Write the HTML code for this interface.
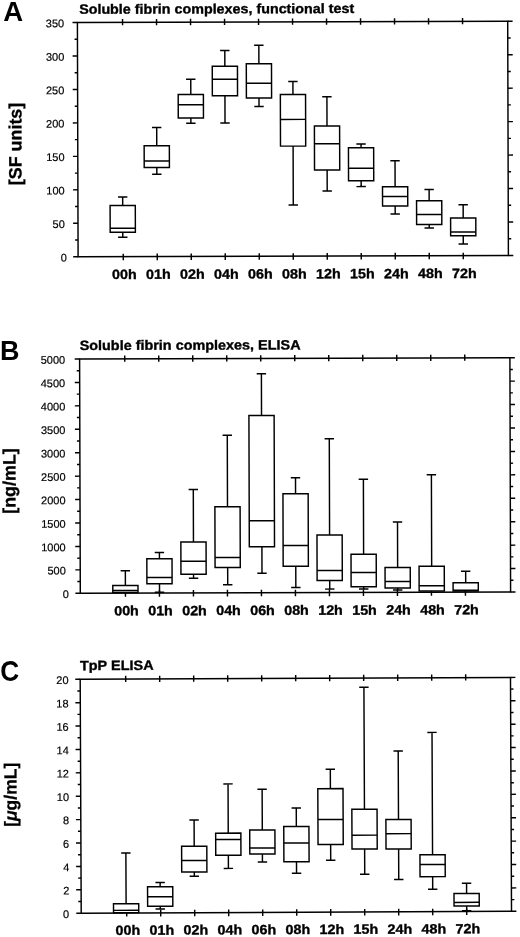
<!DOCTYPE html>
<html><head><meta charset="utf-8"><title>Figure</title>
<style>
html,body{margin:0;padding:0;background:#fff}
svg{display:block}
text{font-family:"Liberation Sans",sans-serif;fill:#000}
.yt{font-size:11px;stroke:#000;stroke-width:0.18px;text-anchor:end}
.xl{font-size:13.5px;stroke:#000;stroke-width:0.35px;font-weight:bold;text-anchor:middle}
.ti{font-size:13.5px;stroke:#000;stroke-width:0.35px;font-weight:bold}
.pl{font-size:26px;font-weight:bold}
.ya{font-size:17.9px;stroke:#000;stroke-width:0.3px;font-weight:bold;text-anchor:middle}
</style></head><body>
<svg width="520" height="937" viewBox="0 0 520 937">
<rect width="520" height="937" fill="#fff"/>
<g transform="rotate(-0.17 292.90 139.00)">
<rect x="77.75" y="21.85" width="430.30" height="234.30" fill="none" stroke="#000" stroke-width="1.45"/>
<path d="M72.85 21.85H77.75M508.05 21.85H512.95 M74.85 38.59H77.75M508.05 38.59H510.95 M72.85 55.32H77.75M508.05 55.32H512.95 M74.85 72.06H77.75M508.05 72.06H510.95 M72.85 88.79H77.75M508.05 88.79H512.95 M74.85 105.53H77.75M508.05 105.53H510.95 M72.85 122.26H77.75M508.05 122.26H512.95 M74.85 139.00H77.75M508.05 139.00H510.95 M72.85 155.74H77.75M508.05 155.74H512.95 M74.85 172.47H77.75M508.05 172.47H510.95 M72.85 189.21H77.75M508.05 189.21H512.95 M74.85 205.94H77.75M508.05 205.94H510.95 M72.85 222.68H77.75M508.05 222.68H512.95 M74.85 239.41H77.75M508.05 239.41H510.95 M72.85 256.15H77.75M508.05 256.15H512.95 M122.90 18.55V24.85M122.90 253.15V259.75 M156.90 18.55V24.85M156.90 253.15V259.75 M190.90 18.55V24.85M190.90 253.15V259.75 M224.90 18.55V24.85M224.90 253.15V259.75 M258.90 18.55V24.85M258.90 253.15V259.75 M292.90 18.55V24.85M292.90 253.15V259.75 M326.90 18.55V24.85M326.90 253.15V259.75 M360.90 18.55V24.85M360.90 253.15V259.75 M394.90 18.55V24.85M394.90 253.15V259.75 M428.90 18.55V24.85M428.90 253.15V259.75 M462.90 18.55V24.85M462.90 253.15V259.75" stroke="#000" stroke-width="1.45" fill="none"/>
<text x="64.50" y="26.50" class="yt">350</text>
<text x="64.50" y="59.97" class="yt">300</text>
<text x="64.50" y="93.44" class="yt">250</text>
<text x="64.50" y="126.91" class="yt">200</text>
<text x="64.50" y="160.39" class="yt">150</text>
<text x="64.50" y="193.86" class="yt">100</text>
<text x="64.50" y="227.33" class="yt">50</text>
<text x="66.50" y="260.80" class="yt">0</text>
<text transform="translate(123.90 278.45) scale(1.06 1)" class="xl">00h</text>
<text transform="translate(157.90 278.45) scale(1.06 1)" class="xl">01h</text>
<text transform="translate(191.90 278.45) scale(1.06 1)" class="xl">02h</text>
<text transform="translate(225.90 278.45) scale(1.06 1)" class="xl">04h</text>
<text transform="translate(259.90 278.45) scale(1.06 1)" class="xl">06h</text>
<text transform="translate(293.90 278.45) scale(1.06 1)" class="xl">08h</text>
<text transform="translate(327.90 278.45) scale(1.06 1)" class="xl">12h</text>
<text transform="translate(361.90 278.45) scale(1.06 1)" class="xl">15h</text>
<text transform="translate(395.90 278.45) scale(1.06 1)" class="xl">24h</text>
<text transform="translate(429.90 278.45) scale(1.06 1)" class="xl">48h</text>
<text transform="translate(463.90 278.45) scale(1.06 1)" class="xl">72h</text>
<path d="M109.90 204.99H135.10V231.69H109.90Z M144.13 145.35H169.33V167.10H144.13Z M178.33 94.20H203.53V117.70H178.33Z M212.47 66.05H237.67V95.55H212.47Z M246.52 63.65H271.72V97.90H246.52Z M280.48 94.40H305.68V146.10H280.48Z M314.44 126.10H339.64V170.10H314.44Z M348.42 147.95H373.62V180.95H348.42Z M382.36 187.00H407.56V206.30H382.36Z M416.37 201.15H441.57V224.90H416.37Z M450.36 218.50H475.56V236.25H450.36Z" stroke="#000" stroke-width="1.45" fill="#fff" stroke-linejoin="miter"/>
<path d="M109.90 227.69H135.10 M122.50 204.99V196.49M117.80 196.49H127.20 M122.50 231.69V236.79M117.80 236.79H127.20 M144.13 160.60H169.33 M156.73 145.35V127.10M152.03 127.10H161.43 M156.73 167.10V173.85M152.03 173.85H161.43 M178.33 104.50H203.53 M190.93 94.20V78.95M186.23 78.95H195.63 M190.93 117.70V122.90M186.23 122.90H195.63 M212.47 79.05H237.67 M225.07 66.05V50.30M220.37 50.30H229.77 M225.07 95.55V122.80M220.37 122.80H229.77 M246.52 83.15H271.72 M259.12 63.65V45.15M254.42 45.15H263.82 M259.12 97.90V106.40M254.42 106.40H263.82 M280.48 119.40H305.68 M293.08 94.40V81.50M288.38 81.50H297.78 M293.08 146.10V205.00M288.38 205.00H297.78 M314.44 143.85H339.64 M327.04 126.10V96.85M322.34 96.85H331.74 M327.04 170.10V191.10M322.34 191.10H331.74 M348.42 168.45H373.62 M361.02 147.95V144.20M356.32 144.20H365.72 M361.02 180.95V186.80M356.32 186.80H365.72 M382.36 196.80H407.56 M394.96 187.00V161.05M390.26 161.05H399.66 M394.96 206.30V214.30M390.26 214.30H399.66 M416.37 214.90H441.57 M428.97 201.15V189.90M424.27 189.90H433.67 M428.97 224.90V228.40M424.27 228.40H433.67 M450.36 232.50H475.56 M462.96 218.50V205.26M458.26 205.26H467.66 M462.96 236.25V244.50M458.26 244.50H467.66" stroke="#000" stroke-width="1.45" fill="none"/>
<text transform="translate(79.50 13.20) scale(1.06 1)" class="ti">Soluble fibrin complexes, functional test</text>
</g>
<text transform="translate(3.30 20.95) scale(1 1)" style="font-size:27.5px" class="pl">A</text>
<text transform="translate(21.50 144.00) rotate(-90.17)" style="font-size:17.9px" class="ya">[SF units]</text>
<g transform="rotate(-0.17 295.10 475.50)">
<rect x="79.95" y="358.35" width="430.30" height="234.30" fill="none" stroke="#000" stroke-width="1.45"/>
<path d="M75.05 358.35H79.95M510.25 358.35H515.15 M77.05 370.06H79.95M510.25 370.06H513.15 M75.05 381.78H79.95M510.25 381.78H515.15 M77.05 393.50H79.95M510.25 393.50H513.15 M75.05 405.21H79.95M510.25 405.21H515.15 M77.05 416.93H79.95M510.25 416.93H513.15 M75.05 428.64H79.95M510.25 428.64H515.15 M77.05 440.36H79.95M510.25 440.36H513.15 M75.05 452.07H79.95M510.25 452.07H515.15 M77.05 463.79H79.95M510.25 463.79H513.15 M75.05 475.50H79.95M510.25 475.50H515.15 M77.05 487.22H79.95M510.25 487.22H513.15 M75.05 498.93H79.95M510.25 498.93H515.15 M77.05 510.65H79.95M510.25 510.65H513.15 M75.05 522.36H79.95M510.25 522.36H515.15 M77.05 534.08H79.95M510.25 534.08H513.15 M75.05 545.79H79.95M510.25 545.79H515.15 M77.05 557.51H79.95M510.25 557.51H513.15 M75.05 569.22H79.95M510.25 569.22H515.15 M77.05 580.93H79.95M510.25 580.93H513.15 M75.05 592.65H79.95M510.25 592.65H515.15 M125.10 355.05V361.35M125.10 589.65V596.25 M159.10 355.05V361.35M159.10 589.65V596.25 M193.10 355.05V361.35M193.10 589.65V596.25 M227.10 355.05V361.35M227.10 589.65V596.25 M261.10 355.05V361.35M261.10 589.65V596.25 M295.10 355.05V361.35M295.10 589.65V596.25 M329.10 355.05V361.35M329.10 589.65V596.25 M363.10 355.05V361.35M363.10 589.65V596.25 M397.10 355.05V361.35M397.10 589.65V596.25 M431.10 355.05V361.35M431.10 589.65V596.25 M465.10 355.05V361.35M465.10 589.65V596.25" stroke="#000" stroke-width="1.45" fill="none"/>
<text x="65.50" y="363.00" class="yt">5000</text>
<text x="65.50" y="386.43" class="yt">4500</text>
<text x="65.50" y="409.86" class="yt">4000</text>
<text x="65.50" y="433.29" class="yt">3500</text>
<text x="65.50" y="456.72" class="yt">3000</text>
<text x="65.50" y="480.15" class="yt">2500</text>
<text x="65.50" y="503.58" class="yt">2000</text>
<text x="65.50" y="527.01" class="yt">1500</text>
<text x="65.50" y="550.44" class="yt">1000</text>
<text x="65.50" y="573.87" class="yt">500</text>
<text x="68.40" y="597.30" class="yt">0</text>
<text transform="translate(126.10 614.85) scale(1.06 1)" class="xl">00h</text>
<text transform="translate(160.10 614.85) scale(1.06 1)" class="xl">01h</text>
<text transform="translate(194.10 614.85) scale(1.06 1)" class="xl">02h</text>
<text transform="translate(228.10 614.85) scale(1.06 1)" class="xl">04h</text>
<text transform="translate(262.10 614.85) scale(1.06 1)" class="xl">06h</text>
<text transform="translate(296.10 614.85) scale(1.06 1)" class="xl">08h</text>
<text transform="translate(330.10 614.85) scale(1.06 1)" class="xl">12h</text>
<text transform="translate(364.10 614.85) scale(1.06 1)" class="xl">15h</text>
<text transform="translate(398.10 614.85) scale(1.06 1)" class="xl">24h</text>
<text transform="translate(432.10 614.85) scale(1.06 1)" class="xl">48h</text>
<text transform="translate(466.10 614.85) scale(1.06 1)" class="xl">72h</text>
<path d="M112.47 584.90H137.67V592.00H112.47Z M146.58 558.35H171.78V583.35H146.58Z M180.66 541.70H205.86V573.95H180.66Z M214.80 506.55H240.00V567.30H214.80Z M249.10 415.40H274.30V546.65H249.10Z M282.90 493.75H308.10V566.25H282.90Z M316.80 535.10H342.00V580.60H316.80Z M350.78 554.45H375.98V586.95H350.78Z M384.77 567.80H409.97V588.30H384.77Z M418.80 566.60H444.00V591.40H418.80Z M452.78 583.31H477.98V591.51H452.78Z" stroke="#000" stroke-width="1.45" fill="#fff" stroke-linejoin="miter"/>
<path d="M112.47 590.00H137.67 M125.07 584.90V570.25M120.37 570.25H129.77 M146.58 577.10H171.78 M159.18 558.35V552.10M154.48 552.10H163.88 M159.18 583.35V591.80M154.48 591.80H163.88 M180.66 560.95H205.86 M193.26 541.70V489.20M188.56 489.20H197.96 M193.26 573.95V577.95M188.56 577.95H197.96 M214.80 557.30H240.00 M227.40 506.55V435.05M222.70 435.05H232.10 M227.40 567.30V584.55M222.70 584.55H232.10 M249.10 520.65H274.30 M261.70 415.40V373.65M257.00 373.65H266.40 M261.70 546.65V573.15M257.00 573.15H266.40 M282.90 545.50H308.10 M295.50 493.75V477.75M290.80 477.75H300.20 M295.50 566.25V587.50M290.80 587.50H300.20 M316.80 570.60H342.00 M329.40 535.10V438.85M324.70 438.85H334.10 M329.40 580.60V589.20M324.70 589.20H334.10 M350.78 572.70H375.98 M363.38 554.45V479.45M358.68 479.45H368.08 M363.38 586.95V589.20M358.68 589.20H368.08 M384.77 581.80H409.97 M397.37 567.80V522.30M392.67 522.30H402.07 M397.37 588.30V590.30M392.67 590.30H402.07 M418.80 586.10H444.00 M431.40 566.60V475.16M426.70 475.16H436.10 M452.78 590.81H477.98 M465.38 583.31V571.71M460.68 571.71H470.08" stroke="#000" stroke-width="1.45" fill="none"/>
<text transform="translate(80.00 349.40) scale(1.068 1)" class="ti">Soluble fibrin complexes, ELISA</text>
</g>
<text transform="translate(0.00 360.00) scale(0.97 1)" style="font-size:27.8px" class="pl">B</text>
<text transform="translate(15.50 481.00) rotate(-90.17)" style="font-size:17.9px" class="ya">[ng/mL]</text>
<g transform="rotate(-0.25 295.85 795.30)">
<rect x="80.70" y="678.35" width="430.30" height="233.90" fill="none" stroke="#000" stroke-width="1.45"/>
<path d="M75.80 678.35H80.70M511.00 678.35H515.90 M77.80 690.05H80.70M511.00 690.05H513.90 M75.80 701.74H80.70M511.00 701.74H515.90 M77.80 713.44H80.70M511.00 713.44H513.90 M75.80 725.13H80.70M511.00 725.13H515.90 M77.80 736.83H80.70M511.00 736.83H513.90 M75.80 748.52H80.70M511.00 748.52H515.90 M77.80 760.22H80.70M511.00 760.22H513.90 M75.80 771.91H80.70M511.00 771.91H515.90 M77.80 783.61H80.70M511.00 783.61H513.90 M75.80 795.30H80.70M511.00 795.30H515.90 M77.80 807.00H80.70M511.00 807.00H513.90 M75.80 818.69H80.70M511.00 818.69H515.90 M77.80 830.38H80.70M511.00 830.38H513.90 M75.80 842.08H80.70M511.00 842.08H515.90 M77.80 853.78H80.70M511.00 853.78H513.90 M75.80 865.47H80.70M511.00 865.47H515.90 M77.80 877.16H80.70M511.00 877.16H513.90 M75.80 888.86H80.70M511.00 888.86H515.90 M77.80 900.56H80.70M511.00 900.56H513.90 M75.80 912.25H80.70M511.00 912.25H515.90 M126.20 675.05V681.35M126.20 909.25V915.85 M160.20 675.05V681.35M160.20 909.25V915.85 M194.20 675.05V681.35M194.20 909.25V915.85 M228.20 675.05V681.35M228.20 909.25V915.85 M262.20 675.05V681.35M262.20 909.25V915.85 M296.20 675.05V681.35M296.20 909.25V915.85 M330.20 675.05V681.35M330.20 909.25V915.85 M364.20 675.05V681.35M364.20 909.25V915.85 M398.20 675.05V681.35M398.20 909.25V915.85 M432.20 675.05V681.35M432.20 909.25V915.85 M466.20 675.05V681.35M466.20 909.25V915.85" stroke="#000" stroke-width="1.45" fill="none"/>
<text x="69.00" y="683.00" class="yt">20</text>
<text x="69.00" y="706.39" class="yt">18</text>
<text x="69.00" y="729.78" class="yt">16</text>
<text x="69.00" y="753.17" class="yt">14</text>
<text x="69.00" y="776.56" class="yt">12</text>
<text x="69.00" y="799.95" class="yt">10</text>
<text x="69.00" y="823.34" class="yt">8</text>
<text x="69.00" y="846.73" class="yt">6</text>
<text x="69.00" y="870.12" class="yt">4</text>
<text x="69.00" y="893.51" class="yt">2</text>
<text x="68.65" y="916.90" class="yt">0</text>
<text transform="translate(127.20 934.10) scale(1.06 1)" class="xl">00h</text>
<text transform="translate(161.20 934.10) scale(1.06 1)" class="xl">01h</text>
<text transform="translate(195.20 934.10) scale(1.06 1)" class="xl">02h</text>
<text transform="translate(229.20 934.10) scale(1.06 1)" class="xl">04h</text>
<text transform="translate(263.20 934.10) scale(1.06 1)" class="xl">06h</text>
<text transform="translate(297.20 934.10) scale(1.06 1)" class="xl">08h</text>
<text transform="translate(331.20 934.10) scale(1.06 1)" class="xl">12h</text>
<text transform="translate(365.20 934.10) scale(1.06 1)" class="xl">15h</text>
<text transform="translate(399.20 934.10) scale(1.06 1)" class="xl">24h</text>
<text transform="translate(433.20 934.10) scale(1.06 1)" class="xl">48h</text>
<text transform="translate(467.20 934.10) scale(1.06 1)" class="xl">72h</text>
<path d="M113.03 902.96H138.23V911.86H113.03Z M147.15 886.16H172.35V905.66H147.15Z M181.38 845.81H206.58V871.56H181.38Z M215.49 832.80H240.69V854.95H215.49Z M249.55 829.85H274.75V853.85H249.55Z M283.61 826.50H308.81V861.75H283.61Z M317.83 788.75H343.03V844.65H317.83Z M351.79 809.50H376.99V849.30H351.79Z M385.79 819.95H410.99V849.45H385.79Z M419.69 855.30H444.89V877.20H419.69Z M453.57 894.24H478.77V906.74H453.57Z" stroke="#000" stroke-width="1.45" fill="#fff" stroke-linejoin="miter"/>
<path d="M113.03 909.56H138.23 M125.63 902.96V852.26M120.93 852.26H130.33 M147.15 896.16H172.35 M159.75 886.16V881.91M155.05 881.91H164.45 M159.75 905.66V908.41M155.05 908.41H164.45 M181.38 860.06H206.58 M193.98 845.81V819.56M189.28 819.56H198.68 M193.98 871.56V875.81M189.28 875.81H198.68 M215.49 839.20H240.69 M228.09 832.80V783.61M223.39 783.61H232.79 M228.09 854.95V868.10M223.39 868.10H232.79 M249.55 847.85H274.75 M262.15 829.85V789.10M257.45 789.10H266.85 M262.15 853.85V861.85M257.45 861.85H266.85 M283.61 843.00H308.81 M296.21 826.50V808.00M291.51 808.00H300.91 M296.21 861.75V873.25M291.51 873.25H300.91 M317.83 819.65H343.03 M330.43 788.75V769.45M325.73 769.45H335.13 M330.43 844.65V860.35M325.73 860.35H335.13 M351.79 835.50H376.99 M364.39 809.50V687.50M359.69 687.50H369.09 M364.39 849.30V874.50M359.69 874.50H369.09 M385.79 834.15H410.99 M398.39 819.95V751.45M393.69 751.45H403.09 M398.39 849.45V879.95M393.69 879.95H403.09 M419.69 865.10H444.89 M432.29 855.30V733.00M427.59 733.00H436.99 M432.29 877.20V889.90M427.59 889.90H436.99 M453.57 903.14H478.77 M466.17 894.24V883.94M461.47 883.94H470.87 M466.17 906.74V911.44M461.47 911.44H470.87" stroke="#000" stroke-width="1.45" fill="none"/>
<text transform="translate(80.50 669.20) scale(1.072 1)" class="ti">TpP ELISA</text>
</g>
<text transform="translate(0.25 681.25) scale(0.91 1)" style="font-size:28.8px" class="pl">C</text>
<text transform="translate(16.60 794.80) rotate(-90.17)" style="font-size:17.5px" class="ya">[<tspan font-style="italic">μ</tspan>g/mL]</text>
</svg>
</body></html>
